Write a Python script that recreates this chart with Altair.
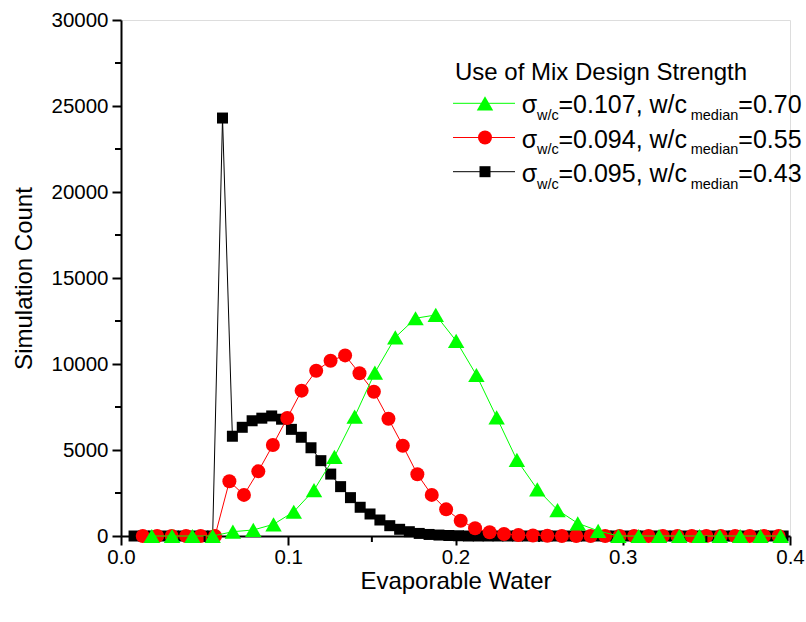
import altair as alt
import pandas as pd

FONT = "Liberation Sans"

# Evaporable-water bin centres and simulation counts, one series per mix
black_x = [0.0078, 0.0137, 0.0196, 0.0254, 0.0313, 0.0372, 0.0431, 0.0490, 0.0548,
           0.0607, 0.0666, 0.0725, 0.0784, 0.0842, 0.0901, 0.0960, 0.1019, 0.1078,
           0.1136, 0.1195, 0.1254, 0.1313, 0.1372, 0.1430, 0.1489, 0.1548, 0.1607,
           0.1666, 0.1724, 0.1783, 0.1842, 0.1901, 0.1960, 0.2018, 0.2077, 0.2136,
           0.2195, 0.2254, 0.2312, 0.2371, 0.2430, 0.2489, 0.2548, 0.2606, 0.2665,
           0.2724, 0.2783, 0.2842, 0.2900, 0.2959, 0.3018, 0.3077, 0.3136, 0.3194,
           0.3253, 0.3312, 0.3371, 0.3430, 0.3488, 0.3547, 0.3606, 0.3665, 0.3724,
           0.3782, 0.3841, 0.3900, 0.3959]
black_count = [0, 0, 0, 0, 0, 0, 0, 0, 0,
               24300, 5800, 6320, 6700, 6850, 6980, 6790, 6200, 5740,
               5130, 4380, 3600, 2870, 2230, 1670, 1280, 930, 600,
               390, 250, 150, 90, 55, 30, 15, 0, 0,
               0, 0, 0, 0, 0, 0, 0, 0, 0,
               0, 0, 0, 0, 0, 0, 0, 0, 0,
               0, 0, 0, 0, 0, 0, 0, 0, 0,
               0, 0, 0, 0]

red_x = [0.0130, 0.0216, 0.0303, 0.0389, 0.0476, 0.0562, 0.0648, 0.0735, 0.0821,
         0.0908, 0.0994, 0.1080, 0.1167, 0.1253, 0.1340, 0.1426, 0.1512, 0.1599,
         0.1685, 0.1772, 0.1858, 0.1944, 0.2031, 0.2117, 0.2204, 0.2290, 0.2376,
         0.2463, 0.2549, 0.2636, 0.2722, 0.2808, 0.2895, 0.2981, 0.3068, 0.3154,
         0.3240, 0.3327, 0.3413, 0.3500, 0.3586, 0.3672, 0.3759, 0.3845, 0.3932]
red_count = [0, 0, 0, 0, 0, 0, 3180, 2390, 3760,
             5290, 6860, 8450, 9610, 10190, 10500, 9460, 8390, 6820,
             5250, 3590, 2390, 1550, 890, 450, 215, 115, 60,
             30, 15, 0, 0, 0, 0, 0, 0, 0,
             0, 0, 0, 0, 0, 0, 0, 0, 0]

green_x = [0.0184, 0.0305, 0.0427, 0.0548, 0.0669, 0.0791, 0.0912, 0.1033,
           0.1154, 0.1276, 0.1397, 0.1518, 0.1640, 0.1761, 0.1882, 0.2004,
           0.2125, 0.2246, 0.2367, 0.2489, 0.2610, 0.2731, 0.2853, 0.2974,
           0.3095, 0.3217, 0.3338, 0.3459, 0.3580, 0.3702, 0.3823, 0.3944]
green_count = [0, 0, 0, 0, 250, 350, 680, 1410,
               2670, 4600, 6940, 9500, 11550, 12660, 12850, 11340,
               9360, 6900, 4420, 2715, 1510, 740, 300, 0,
               0, 0, 0, 0, 0, 0, 0, 0]

x_ticks = [0.0, 0.1, 0.2, 0.3, 0.4]
x_minor = [0.05, 0.15, 0.25, 0.35]
y_ticks = [0, 5000, 10000, 15000, 20000, 25000, 30000]
y_minor = [2500, 7500, 12500, 17500, 22500, 27500]

legend_title = "Use of Mix Design Strength"
legend_sigma = ["0.107", "0.094", "0.095"]
legend_median = ["0.70", "0.55", "0.43"]
legend_colors = ["#00FF00", "#FF0000", "#000000"]
legend_shapes = ["triangle-up", "circle", "square"]

W, H = 669, 516

xscale = alt.Scale(domain=[0, 0.4], nice=False, zero=False)
yscale = alt.Scale(domain=[0, 30000], nice=False)

axis_common = dict(
    grid=False, domainColor="black", domainWidth=2, tickColor="black",
    tickWidth=2, tickSize=9, labelFont=FONT, labelFontSize=20.5,
    labelColor="black", titleFont=FONT, titleFontSize=24,
    titleFontWeight="normal", titleColor="black", labelFlush=False,
    labelOverlap=False,
)
xaxis = alt.Axis(values=x_ticks, format=".1f", title="Evaporable Water",
                 labelPadding=2, titleX=W / 2, titleY=45,
                 titleBaseline="middle", **axis_common)
yaxis = alt.Axis(values=y_ticks, format="d", title="Simulation Count",
                 labelPadding=4, titleX=-97, titleY=H / 2,
                 titleBaseline="middle", titleAlign="center", **axis_common)

X = alt.X("w:Q", scale=xscale, axis=xaxis)
Y = alt.Y("n:Q", scale=yscale, axis=yaxis)

SIZES = {"triangle-up": 270, "circle": 196, "square": 121}


def series(xs, ys, color, shape):
    df = pd.DataFrame({"w": xs, "n": ys})
    base = alt.Chart(df).encode(x=X, y=Y)
    line = base.mark_line(color=color, strokeWidth=1)
    pts = base.mark_point(shape=shape, size=SIZES[shape], filled=True,
                          color=color, opacity=1, strokeWidth=0)
    return [line, pts]


layers = []
layers += series(black_x, black_count, "#000000", "square")
layers += series(red_x, red_count, "#FF0000", "circle")
layers += series(green_x, green_count, "#00FF00", "triangle-up")

# minor ticks on both axes
layers.append(
    alt.Chart(pd.DataFrame({"w": x_minor})).mark_rule(color="black", strokeWidth=2)
    .encode(x=X, y=alt.value(H), y2=alt.value(H + 6))
)
layers.append(
    alt.Chart(pd.DataFrame({"n": y_minor})).mark_rule(color="black", strokeWidth=2)
    .encode(y=Y, x=alt.value(0), x2=alt.value(-6))
)

# legend block
LX, TOP = 334, 60  # legend origin relative to plot area
layers.append(
    alt.Chart().mark_text(font=FONT, fontSize=24, align="left", baseline="alphabetic", color="black")
    .encode(x=alt.value(LX), y=alt.value(TOP), text=alt.value(legend_title))
)
for i in range(3):
    cy = 83.3 + 34.2 * i
    base_y = cy + 10
    sub_y = cy + 16.8
    layers.append(
        alt.Chart().mark_rule(color=legend_colors[i], strokeWidth=1)
        .encode(x=alt.value(332), x2=alt.value(394), y=alt.value(cy))
    )
    layers.append(
        alt.Chart().mark_point(shape=legend_shapes[i], size=SIZES[legend_shapes[i]],
                               filled=True, color=legend_colors[i], opacity=1, strokeWidth=0)
        .encode(x=alt.value(364), y=alt.value(cy))
    )
    pieces = [
        (400.7, base_y, 25, "σ"),
        (416, sub_y, 14.5, "w/c"),
        (437.5, base_y, 25, "=" + legend_sigma[i] + ", w/c"),
        (569.7, sub_y, 14.5, "median"),
        (617.3, base_y, 25, "=" + legend_median[i]),
    ]
    for px, py, fs, txt in pieces:
        layers.append(
            alt.Chart().mark_text(font=FONT, fontSize=fs, align="left",
                                  baseline="alphabetic", color="black")
            .encode(x=alt.value(px), y=alt.value(py), text=alt.value(txt))
        )

chart = (
    alt.layer(*layers)
    .properties(width=W, height=H, autosize="none",
                padding={"left": 121, "top": 20, "right": 16, "bottom": 86})
    .configure_view(stroke=None, strokeWidth=0)
    .configure(background="white")
)

chart.save("out.html", embed_options={"renderer": "svg", "actions": False})
